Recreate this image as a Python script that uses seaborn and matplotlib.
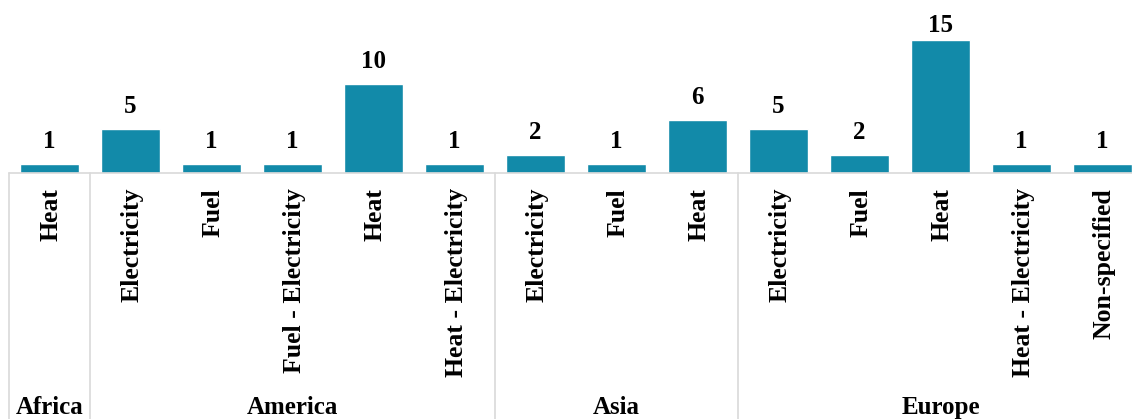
import matplotlib
matplotlib.use("Agg")
import matplotlib.pyplot as plt
import seaborn as sns
import pandas as pd
import matplotlib.transforms as mtransforms

regions = ["Africa", "America", "America", "America", "America", "America",
           "Asia", "Asia", "Asia", "Europe", "Europe", "Europe", "Europe", "Europe"]
energy = ["Heat", "Electricity", "Fuel", "Fuel - Electricity", "Heat", "Heat - Electricity",
          "Electricity", "Fuel", "Heat", "Electricity", "Fuel", "Heat", "Heat - Electricity",
          "Non-specified"]
counts = [1, 5, 1, 1, 10, 1, 2, 1, 6, 5, 2, 15, 1, 1]

df = pd.DataFrame({"slot": [str(i) for i in range(len(counts))], "count": counts})

sns.set_theme(style="white")
plt.rcParams['font.family'] = ['Liberation Serif', 'DejaVu Serif']
plt.rcParams['text.color'] = 'black'

W, H = 1132, 419
fig = plt.figure(figsize=(W / 100, H / 100), dpi=100)
ax_left, ax_right, base_y = 9, 1143, 173
ymax = 19.5
ax = fig.add_axes([ax_left / W, (H - base_y) / H, (ax_right - ax_left) / W, base_y / H])

sns.barplot(data=df, x="slot", y="count", color="#128AA9", saturation=1, width=0.74, ax=ax)
ax.set_xlim(-0.5, len(counts) - 0.5)
ax.set_ylim(0, ymax)
for s in ax.spines.values():
    s.set_visible(False)
ax.set_xticks([])
ax.set_yticks([])
ax.set_xlabel("")
ax.set_ylabel("")

px_per_unit = base_y / ymax
for i, v in enumerate(counts):
    top_px = base_y - v * px_per_unit          # bar top, pixels from figure top
    off_px = min(16, top_px - 32)              # keep label inside figure
    ax.annotate(str(v), (i, v), xytext=(0, off_px * 0.72), textcoords="offset points",
                ha="center", va="baseline", fontsize=18, fontweight="bold", color="black")

trans = mtransforms.blended_transform_factory(ax.transData, ax.transAxes)
bottom = -(H - base_y) / base_y
line_kw = dict(color="#d9d9d9", lw=1.2, clip_on=False, transform=trans)
ax.plot([-0.5, len(counts) - 0.5], [0, 0], **line_kw)

# group boundaries
groups = []
for i, r in enumerate(regions):
    if not groups or groups[-1][0] != r:
        groups.append([r, i, i])
    else:
        groups[-1][2] = i
for name, a, b in groups:
    ax.plot([a - 0.5, a - 0.5], [0, bottom], **line_kw)
    ax.text((a + b) / 2, (base_y - 414) / base_y, name, transform=trans, ha="center",
            va="baseline", fontsize=18, fontweight="bold", color="black")
ax.plot([len(counts) - 0.5] * 2, [0, bottom], **line_kw)

for i, lab in enumerate(energy):
    ax.text(i + 0.02, -15 / base_y, lab, transform=trans, rotation=90, ha="center", va="top",
            fontsize=18.5, fontweight="bold", color="black")

fig.savefig("out.png", dpi=100)
